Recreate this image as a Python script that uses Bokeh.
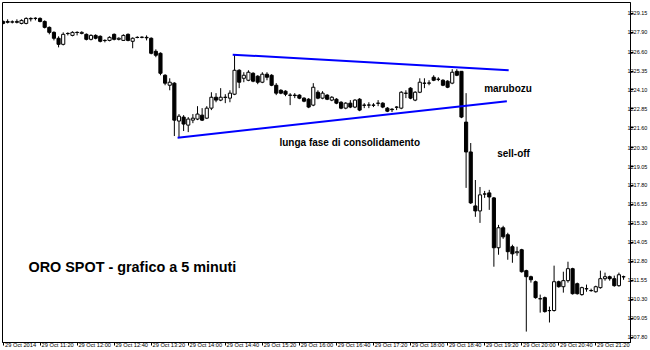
from bokeh.plotting import figure
from bokeh.models import Range1d, FixedTicker, LinearAxis, ColumnDataSource
from bokeh.embed import file_html
from bokeh.resources import INLINE
from bokeh.core.properties import value

# 5-minute gold spot candles, 29 Oct 2014, 10:40 -> 21:50 (bar index 0..134)
open_ = [
    1228.62, 1228.56, 1228.59, 1228.56, 1228.49, 1228.49, 1228.82, 1228.82, 1228.82, 1228.62,
    1228.23, 1227.90, 1227.51, 1227.11, 1227.83, 1227.70, 1227.90, 1227.83, 1227.77, 1227.44,
    1227.70, 1227.64, 1227.37, 1227.37, 1227.77, 1227.44, 1227.37, 1227.77, 1227.31, 1227.57,
    1227.57, 1227.57, 1227.51, 1226.65, 1226.52, 1225.07, 1224.41, 1224.55, 1222.05, 1222.31,
    1221.78, 1222.11, 1222.18, 1222.44, 1222.24, 1222.90, 1223.62, 1223.43, 1223.62, 1223.56,
    1223.82, 1225.40, 1224.87, 1224.74, 1225.20, 1225.01, 1224.61, 1225.14, 1225.07, 1224.41,
    1224.08, 1224.02, 1223.76, 1223.76, 1223.76, 1223.56, 1223.49, 1223.10, 1223.95, 1223.56,
    1223.76, 1223.43, 1223.49, 1223.29, 1222.90, 1223.23, 1222.97, 1223.49, 1223.10, 1223.10,
    1223.10, 1223.23, 1223.23, 1222.90, 1222.83, 1222.97, 1222.90, 1223.89, 1224.22, 1223.43,
    1223.95, 1224.55, 1224.55, 1224.94, 1224.81, 1224.74, 1224.68, 1224.55, 1225.33, 1225.33,
    1221.98, 1220.01, 1216.45, 1216.12, 1217.24, 1217.31, 1216.98, 1213.69, 1215.01, 1214.55,
    1213.76, 1213.36, 1213.56, 1212.18, 1211.78, 1211.45, 1210.33, 1210.40, 1209.55, 1209.55,
    1211.45, 1211.12, 1211.52, 1212.31, 1211.32, 1210.60, 1210.99, 1210.86, 1210.79, 1211.06,
    1211.65, 1211.78, 1211.65, 1211.19, 1211.78,
]
high = [
    1228.69, 1228.76, 1228.69, 1228.76, 1228.76, 1228.89, 1228.89, 1228.89, 1228.89, 1228.69,
    1228.29, 1227.97, 1227.64, 1227.90, 1227.90, 1227.97, 1227.97, 1227.97, 1227.83, 1227.77,
    1227.77, 1227.70, 1227.44, 1227.64, 1227.83, 1227.57, 1227.77, 1227.83, 1227.57, 1227.64,
    1227.64, 1227.70, 1227.57, 1226.78, 1226.58, 1225.14, 1224.87, 1224.61, 1222.51, 1222.44,
    1222.31, 1222.51, 1223.03, 1222.90, 1223.03, 1223.95, 1223.89, 1224.22, 1223.82, 1224.08,
    1226.45, 1225.47, 1225.27, 1225.40, 1225.27, 1225.07, 1225.27, 1225.27, 1225.14, 1224.55,
    1224.15, 1224.08, 1223.89, 1223.89, 1223.82, 1223.62, 1223.56, 1224.55, 1224.08, 1224.02,
    1223.82, 1223.69, 1223.56, 1223.36, 1223.29, 1223.43, 1223.49, 1223.56, 1223.23, 1223.29,
    1223.23, 1223.43, 1223.29, 1222.97, 1222.90, 1223.03, 1224.02, 1224.08, 1224.28, 1224.02,
    1224.87, 1224.87, 1224.74, 1225.07, 1224.94, 1224.81, 1224.74, 1225.47, 1225.47, 1225.33,
    1223.89, 1220.60, 1218.16, 1217.70, 1217.44, 1217.51, 1217.04, 1215.20, 1215.14, 1214.68,
    1213.89, 1213.76, 1213.62, 1212.24, 1211.85, 1211.52, 1210.60, 1210.47, 1209.81, 1212.51,
    1211.52, 1212.11, 1212.77, 1212.37, 1211.39, 1211.12, 1211.26, 1210.99, 1211.19, 1212.18,
    1212.05, 1211.85, 1211.85, 1212.05, 1211.85,
]
low = [
    1228.43, 1228.49, 1228.49, 1228.49, 1228.43, 1228.43, 1228.62, 1228.69, 1228.56, 1228.16,
    1227.77, 1227.37, 1226.91, 1227.04, 1227.70, 1227.64, 1227.70, 1227.77, 1227.37, 1227.37,
    1227.44, 1227.24, 1227.24, 1227.31, 1227.37, 1227.37, 1227.34, 1227.31, 1226.85, 1227.51,
    1227.51, 1227.37, 1226.45, 1226.26, 1225.07, 1224.41, 1224.08, 1221.06, 1220.93, 1221.39,
    1221.32, 1221.91, 1222.11, 1222.05, 1222.18, 1222.77, 1223.29, 1223.36, 1223.23, 1223.29,
    1223.76, 1224.22, 1224.61, 1224.68, 1224.61, 1224.48, 1224.55, 1224.74, 1224.35, 1223.76,
    1223.82, 1223.69, 1223.10, 1223.56, 1223.49, 1223.29, 1222.90, 1223.03, 1223.49, 1223.49,
    1223.43, 1223.36, 1223.16, 1222.83, 1222.83, 1222.90, 1222.90, 1222.70, 1222.90, 1222.90,
    1222.97, 1223.03, 1222.90, 1222.64, 1222.64, 1222.77, 1222.83, 1223.56, 1223.49, 1223.36,
    1223.89, 1224.22, 1224.41, 1224.68, 1224.68, 1224.35, 1224.22, 1224.48, 1225.01, 1222.24,
    1217.64, 1216.58, 1215.73, 1215.33, 1216.98, 1216.19, 1212.44, 1213.23, 1214.28, 1212.90,
    1212.70, 1213.16, 1212.05, 1208.16, 1211.39, 1210.33, 1209.41, 1209.41, 1208.76, 1209.48,
    1211.06, 1210.73, 1211.39, 1210.60, 1210.60, 1210.53, 1210.79, 1210.79, 1210.73, 1210.99,
    1211.52, 1211.52, 1211.12, 1211.12, 1211.58,
]
close = [
    1228.49, 1228.62, 1228.58, 1228.62, 1228.69, 1228.82, 1228.79, 1228.83, 1228.62, 1228.23,
    1227.90, 1227.51, 1227.11, 1227.77, 1227.82, 1227.90, 1227.89, 1227.90, 1227.44, 1227.70,
    1227.51, 1227.31, 1227.36, 1227.57, 1227.44, 1227.51, 1227.70, 1227.37, 1227.51, 1227.56,
    1227.58, 1227.54, 1226.52, 1226.39, 1225.20, 1224.55, 1224.61, 1222.11, 1222.37, 1221.85,
    1222.18, 1222.24, 1222.51, 1222.11, 1222.90, 1223.62, 1223.43, 1223.62, 1223.61, 1223.89,
    1225.40, 1224.61, 1225.07, 1225.27, 1224.68, 1224.61, 1225.14, 1224.94, 1224.41, 1223.89,
    1223.89, 1223.82, 1223.75, 1223.73, 1223.56, 1223.36, 1222.97, 1224.28, 1223.56, 1223.89,
    1223.49, 1223.62, 1223.23, 1222.90, 1223.23, 1222.97, 1223.43, 1222.77, 1223.09, 1223.11,
    1223.09, 1223.22, 1222.97, 1222.70, 1222.80, 1222.96, 1223.95, 1223.88, 1223.56, 1223.95,
    1224.61, 1224.54, 1224.56, 1224.74, 1224.80, 1224.41, 1224.28, 1225.27, 1225.07, 1222.31,
    1220.01, 1216.65, 1216.12, 1217.18, 1217.23, 1217.04, 1213.69, 1215.01, 1214.41, 1213.43,
    1213.29, 1213.43, 1212.11, 1211.78, 1211.58, 1210.40, 1210.32, 1209.48, 1209.54, 1211.45,
    1211.12, 1211.52, 1212.31, 1210.66, 1210.66, 1211.06, 1210.98, 1210.87, 1211.12, 1211.65,
    1211.78, 1211.65, 1211.19, 1211.91, 1211.77,
]

# time axis: one label every 8 bars (40 minutes)
x_tick_labels = [
    "29 Oct 2014", "29 Oct 11:20", "29 Oct 12:00", "29 Oct 12:40", "29 Oct 13:20",
    "29 Oct 14:00", "29 Oct 14:40", "29 Oct 15:20", "29 Oct 16:00", "29 Oct 16:40",
    "29 Oct 17:20", "29 Oct 18:00", "29 Oct 18:40", "29 Oct 19:20", "29 Oct 20:00",
    "29 Oct 20:40", "29 Oct 21:20",
]
bars_per_label = 8

price_ticks = [
    1229.15, 1227.90, 1226.60, 1225.35, 1224.10, 1222.85, 1221.60, 1220.30, 1219.05,
    1217.80, 1216.55, 1215.30, 1214.05, 1212.80, 1211.55, 1210.30, 1209.05, 1207.80,
]
price_tick_labels = [
    "1229.15", "1227.90", "1226.60", "1225.35", "1224.10", "1222.85", "1221.60", "1220.30",
    "1219.05", "1217.80", "1216.55", "1215.30", "1214.05", "1212.80", "1211.55", "1210.30",
    "1209.05", "1207.80",
]

# consolidation triangle trend lines (bar index, price)
upper_trend_bar = [49.6, 109.2]
upper_trend_price = [1226.43, 1225.40]
lower_trend_bar = [37.7, 108.8]
lower_trend_price = [1220.95, 1223.36]

n = len(close)
bars = list(range(n))
src = ColumnDataSource(dict(
    x=bars,
    high=high,
    low=low,
    top=[max(o, c) for o, c in zip(open_, close)],
    bottom=[min(o, c) for o, c in zip(open_, close)],
    fill=["white" if c >= o else "black" for o, c in zip(open_, close)],
))

p = figure(
    width=650, height=350, output_backend="svg", toolbar_location=None,
    x_range=Range1d(-0.11, 135.5), y_range=Range1d(1207.44, 1229.87),
    x_axis_location=None, y_axis_location=None,
    min_border_left=2, min_border_top=2, min_border_right=0, min_border_bottom=0,
    background_fill_color="white", border_fill_color="white",
)
p.grid.visible = False
p.outline_line_color = "black"
p.outline_line_width = 1

axis_font = "Liberation Sans"

# price axis on the right
yaxis = LinearAxis(
    ticker=FixedTicker(ticks=price_ticks, minor_ticks=[]),
    major_label_overrides=dict(zip(price_ticks, price_tick_labels)),
    major_tick_in=0, major_tick_out=3, minor_tick_out=0,
    major_label_standoff=-6,
    major_label_text_font=axis_font, major_label_text_font_size="5.5px",
    major_label_text_color="black",
    axis_line_color="black",
)
p.add_layout(yaxis, "right")

# time axis: tick marks on the bars, labels set just right of them
tick_bars = [i * bars_per_label for i in range(len(x_tick_labels))]
label_pos = [b + 3.8 for b in tick_bars]
xaxis = LinearAxis(
    ticker=FixedTicker(ticks=label_pos, minor_ticks=tick_bars),
    major_label_overrides=dict(zip(label_pos, x_tick_labels)),
    major_tick_in=0, major_tick_out=0, minor_tick_in=0, minor_tick_out=3,
    major_label_standoff=-4,
    major_label_text_font=axis_font, major_label_text_font_size="5.7px",
    major_label_text_color="black",
    axis_line_color="black",
)
p.add_layout(xaxis, "below")

# candles: wicks first, bodies on top
p.segment(x0="x", y0="low", x1="x", y1="high", source=src, line_color="black", line_width=1)
p.vbar(x="x", width=0.68, top="top", bottom="bottom", source=src,
       fill_color="fill", line_color="black", line_width=1)

# triangle
p.line(upper_trend_bar, upper_trend_price, line_color="#0000ff", line_width=2)
p.line(lower_trend_bar, lower_trend_price, line_color="#0000ff", line_width=2)

label_font = value("Liberation Sans")
p.text(x=[5.5], y=[1212.44], text=["ORO SPOT - grafico a 5 minuti"],
       text_font=label_font, text_font_style="bold", text_font_size="14.4px",
       text_align="left", text_baseline="middle", text_color="black")
p.text(x=[59.7], y=[1220.66], text=["lunga fase di consolidamento"],
       text_font=label_font, text_font_style="bold", text_font_size="10px",
       text_align="left", text_baseline="middle", text_color="black")
p.text(x=[103.9], y=[1224.22], text=["marubozu"],
       text_font=label_font, text_font_style="bold", text_font_size="10px",
       text_align="left", text_baseline="middle", text_color="black")
p.text(x=[106.7], y=[1219.94], text=["sell-off"],
       text_font=label_font, text_font_style="bold", text_font_size="10px",
       text_align="left", text_baseline="middle", text_color="black")

open("out.html", "w").write(file_html(p, INLINE))
